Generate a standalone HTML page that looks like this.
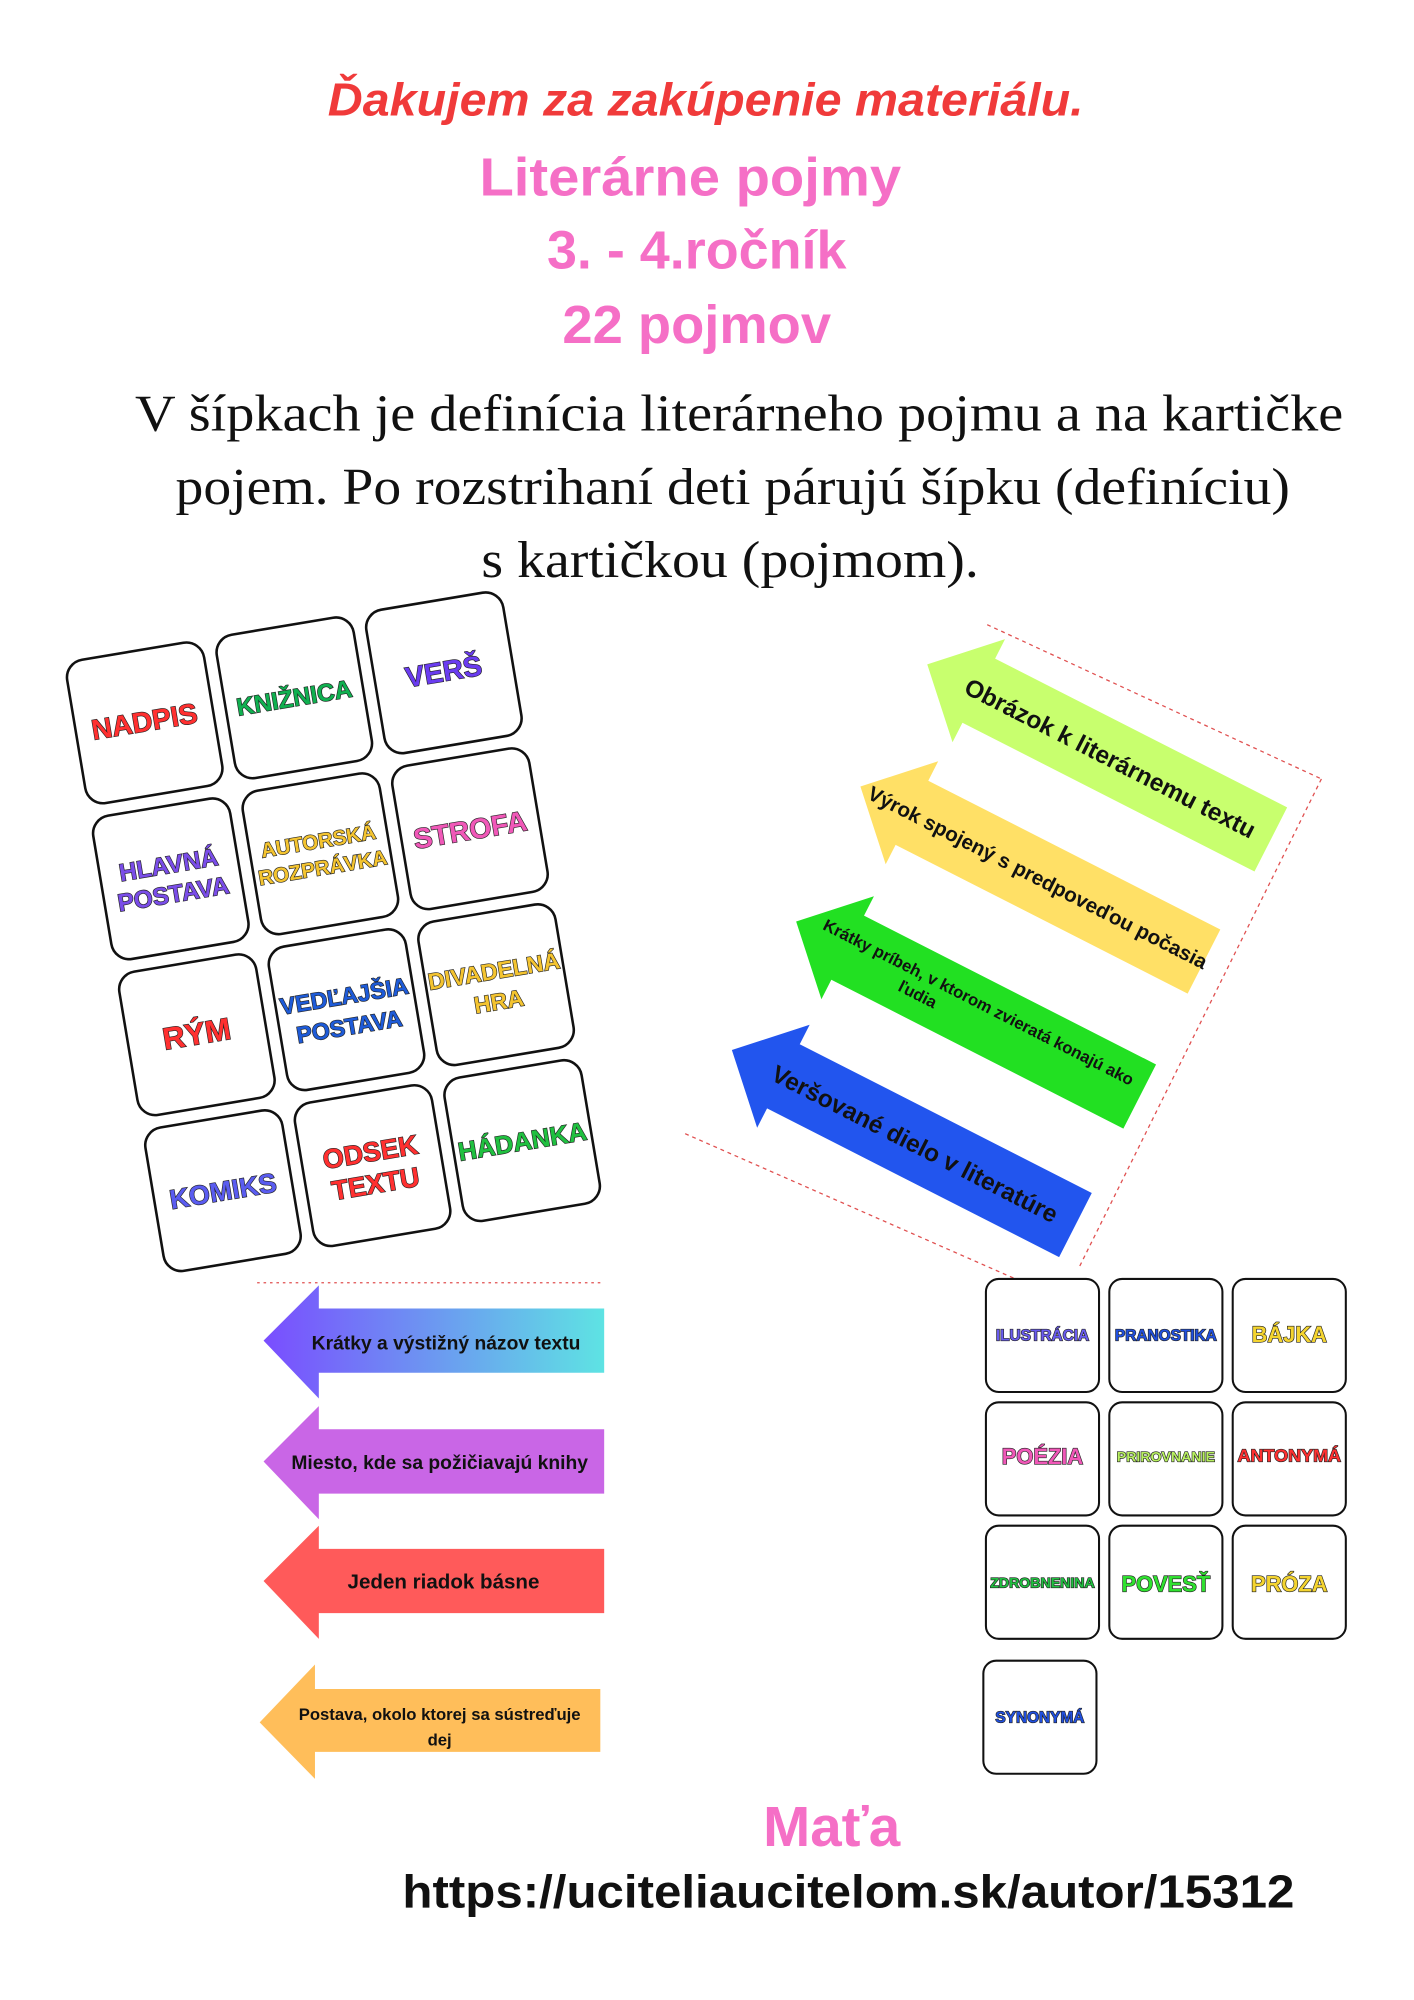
<!DOCTYPE html>
<html><head><meta charset="utf-8"><style>
html,body{margin:0;padding:0;background:#fff;}
svg{display:block;}
.cl{font-family:"Liberation Sans",sans-serif;font-weight:bold;stroke:#222;stroke-width:1;paint-order:stroke;text-anchor:middle;}
.at{font-family:"Liberation Sans",sans-serif;font-weight:bold;fill:#111;text-anchor:middle;}
</style></head><body>
<svg width="1414" height="2000" viewBox="0 0 1100 1556" xmlns="http://www.w3.org/2000/svg">
<defs>
<linearGradient id="g1" x1="0" x2="1"><stop offset="0" stop-color="#7a4dff"/><stop offset="1" stop-color="#5ee3e3"/></linearGradient>
</defs>

<!-- left card sheet -->
<g transform="translate(45,486) rotate(-9.5 0 0)">
<g fill="#fff" stroke="#111" stroke-width="2">
<rect x="0" y="30" width="108" height="113" rx="14"/><rect x="118" y="30" width="108" height="113" rx="14"/><rect x="236" y="30" width="108" height="113" rx="14"/>
<rect x="0" y="153" width="108" height="113" rx="14"/><rect x="118" y="153" width="108" height="113" rx="14"/><rect x="236" y="153" width="108" height="113" rx="14"/>
<rect x="0" y="276" width="108" height="113" rx="14"/><rect x="118" y="276" width="108" height="113" rx="14"/><rect x="236" y="276" width="108" height="113" rx="14"/>
<rect x="0" y="399" width="108" height="113" rx="14"/><rect x="118" y="399" width="108" height="113" rx="14"/><rect x="236" y="399" width="108" height="113" rx="14"/>
</g>
<text class="cl" x="54" y="93" font-size="22" fill="#ff3030">NADPIS</text>
<text class="cl" x="172" y="93" font-size="19" fill="#10b050">KNIŽNICA</text>
<text class="cl" x="290" y="93" font-size="22" fill="#6a3cf0">VERŠ</text>
<text class="cl" x="54" y="205" font-size="19" fill="#7a4de8">HLAVNÁ</text>
<text class="cl" x="54" y="228" font-size="19" fill="#7a4de8">POSTAVA</text>
<text class="cl" x="172" y="205" font-size="16" fill="#f4c430">AUTORSKÁ</text>
<text class="cl" x="172" y="226" font-size="16" fill="#f4c430">ROZPRÁVKA</text>
<text class="cl" x="290" y="218" font-size="22" fill="#f058b8">STROFA</text>
<text class="cl" x="54" y="340" font-size="24" fill="#ff3030">RÝM</text>
<text class="cl" x="172" y="328" font-size="18" fill="#1e5bd8">VEDĽAJŠIA</text>
<text class="cl" x="172" y="352" font-size="18" fill="#1e5bd8">POSTAVA</text>
<text class="cl" x="290" y="328" font-size="18" fill="#f4c430">DIVADELNÁ</text>
<text class="cl" x="290" y="352" font-size="18" fill="#f4c430">HRA</text>
<text class="cl" x="54" y="463" font-size="21" fill="#5a5cf0">KOMIKS</text>
<text class="cl" x="172" y="452" font-size="21" fill="#ff3030">ODSEK</text>
<text class="cl" x="172" y="477" font-size="21" fill="#ff3030">TEXTU</text>
<text class="cl" x="290" y="463" font-size="20" fill="#20c040">HÁDANKA</text>
</g>

<g font-family="Liberation Sans, sans-serif" font-weight="bold" text-anchor="middle">
<text x="549" y="90" font-size="36" font-style="italic" fill="#f03a3a" textLength="588" lengthAdjust="spacingAndGlyphs">Ďakujem za zakúpenie materiálu.</text>
<text x="537" y="152" font-size="42" fill="#f56fc6" textLength="328" lengthAdjust="spacingAndGlyphs">Literárne pojmy</text>
<text x="542" y="209" font-size="42" fill="#f56fc6" textLength="233" lengthAdjust="spacingAndGlyphs">3. - 4.ročník</text>
<text x="542" y="267" font-size="42" fill="#f56fc6" textLength="209" lengthAdjust="spacingAndGlyphs">22 pojmov</text>
</g>
<g font-family="Liberation Serif, serif" font-size="40" fill="#111" text-anchor="middle">
<text x="575" y="335" textLength="940" lengthAdjust="spacingAndGlyphs">V šípkach  je definícia literárneho pojmu a na kartičke</text>
<text x="570" y="392" textLength="867" lengthAdjust="spacingAndGlyphs">pojem. Po rozstrihaní deti párujú šípku (definíciu)</text>
<text x="568" y="449" textLength="387" lengthAdjust="spacingAndGlyphs">s kartičkou (pojmom).</text>
</g>

<!-- right rotated arrow sheet -->
<g stroke="#e05050" stroke-width="1" stroke-dasharray="3,3" fill="none">
<line x1="768" y1="486" x2="1028" y2="606"/>
<line x1="1028" y1="606" x2="840" y2="985"/>
<line x1="533" y1="882" x2="790" y2="995"/>
</g>
<g transform="translate(855,585) rotate(27)">
<path d="M-150,0 L-105,-45 L-105,-28 L150,-28 L150,28 L-105,28 L-105,45 Z" fill="#c8ff6e"/>
<text class="at" x="10" y="7" font-size="19">Obrázok k literárnemu textu</text>
</g>
<g transform="translate(803,680) rotate(27)">
<path d="M-150,0 L-105,-45 L-105,-28 L150,-28 L150,28 L-105,28 L-105,45 Z" fill="#ffe066"/>
<text class="at" x="5" y="6" font-size="16">Výrok spojený s predpoveďou počasia</text>
</g>
<g transform="translate(753,785) rotate(27)">
<path d="M-150,0 L-105,-45 L-105,-28 L150,-28 L150,28 L-105,28 L-105,45 Z" fill="#22e022"/>
<text class="at" x="5" y="-4" font-size="13">Krátky príbeh, v ktorom zvieratá konajú ako</text>
<text class="at" x="-40" y="12" font-size="13">ľudia</text>
</g>
<g transform="translate(703,885) rotate(27)">
<path d="M-150,0 L-105,-45 L-105,-28 L150,-28 L150,28 L-105,28 L-105,45 Z" fill="#2255ee"/>
<text class="at" x="10" y="7" font-size="19">Veršované dielo v literatúre</text>
</g>

<!-- bottom left arrows -->
<line x1="200" y1="998" x2="470" y2="998" stroke="#e05050" stroke-dasharray="2,3"/>
<path d="M205,1043 L248,1000 L248,1018 L470,1018 L470,1068 L248,1068 L248,1088 Z" fill="url(#g1)"/>
<text class="at" x="347" y="1050" font-size="15">Krátky a výstižný názov textu</text>
<path d="M205,1137 L248,1094 L248,1112 L470,1112 L470,1162 L248,1162 L248,1182 Z" fill="#c966e6"/>
<text class="at" x="342" y="1143" font-size="15">Miesto, kde sa požičiavajú knihy</text>
<path d="M205,1230 L248,1187 L248,1205 L470,1205 L470,1255 L248,1255 L248,1275 Z" fill="#ff5a5a"/>
<text class="at" x="345" y="1236" font-size="16">Jeden riadok básne</text>
<path d="M202,1340 L245,1295 L245,1314 L467,1314 L467,1363 L245,1363 L245,1384 Z" fill="#ffbe5a"/>
<text class="at" x="342" y="1338" font-size="13">Postava, okolo ktorej sa sústreďuje</text>
<text class="at" x="342" y="1358" font-size="13">dej</text>

<!-- right cards -->
<g fill="#fff" stroke="#111" stroke-width="1.6">
<rect x="767" y="995" width="88" height="88" rx="10"/><rect x="863" y="995" width="88" height="88" rx="10"/><rect x="959" y="995" width="88" height="88" rx="10"/>
<rect x="767" y="1091" width="88" height="88" rx="10"/><rect x="863" y="1091" width="88" height="88" rx="10"/><rect x="959" y="1091" width="88" height="88" rx="10"/>
<rect x="767" y="1187" width="88" height="88" rx="10"/><rect x="863" y="1187" width="88" height="88" rx="10"/><rect x="959" y="1187" width="88" height="88" rx="10"/>
<rect x="765" y="1292" width="88" height="88" rx="10"/>
</g>
<text class="cl" x="811" y="1043" font-size="12" fill="#6a5cf0" stroke-width="0.6">ILUSTRÁCIA</text>
<text class="cl" x="907" y="1043" font-size="12" fill="#2050e0" stroke-width="0.6">PRANOSTIKA</text>
<text class="cl" x="1003" y="1044" font-size="17" fill="#f4d430">BÁJKA</text>
<text class="cl" x="811" y="1139" font-size="17" fill="#f058b8">POÉZIA</text>
<text class="cl" x="907" y="1137" font-size="11" fill="#b8f060" stroke-width="0.5">PRIROVNANIE</text>
<text class="cl" x="1003" y="1137" font-size="14" fill="#ff3030" stroke-width="0.6">ANTONYMÁ</text>
<text class="cl" x="811" y="1235" font-size="11" fill="#20c040" stroke-width="0.5">ZDROBNENINA</text>
<text class="cl" x="907" y="1238" font-size="17" fill="#30e030">POVESŤ</text>
<text class="cl" x="1003" y="1238" font-size="17" fill="#f4d430">PRÓZA</text>
<text class="cl" x="809" y="1340" font-size="12" fill="#2050e0" stroke-width="0.6">SYNONYMÁ</text>

<g font-family="Liberation Sans, sans-serif" font-weight="bold" text-anchor="middle">
<text x="647" y="1436" font-size="44" fill="#f56fc6">Maťa</text>
<text x="660" y="1484" font-size="36" fill="#111" textLength="694" lengthAdjust="spacingAndGlyphs">https://uciteliaucitelom.sk/autor/15312</text>
</g>
</svg>
</body></html>
